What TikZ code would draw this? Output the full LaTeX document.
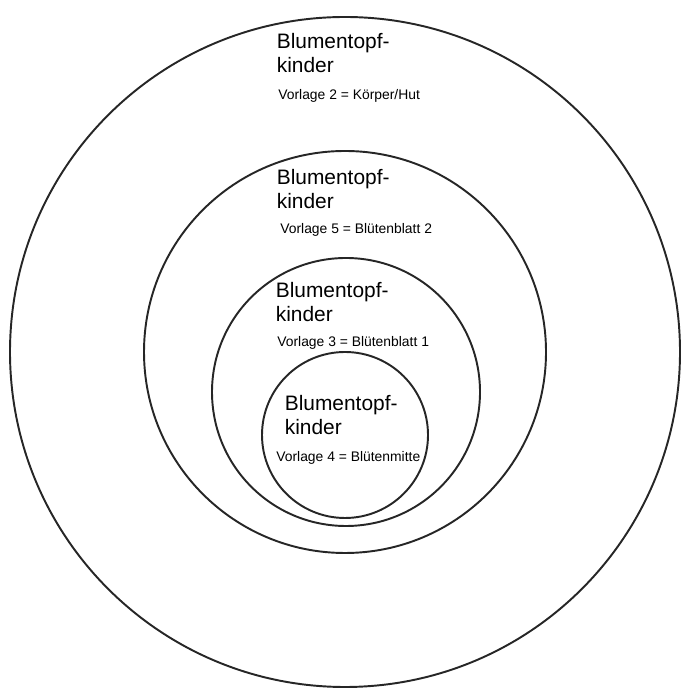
\documentclass[tikz,border=0pt]{standalone}
\usepackage{fontspec}
\setmainfont{Liberation Sans}
\usetikzlibrary{positioning}

\begin{document}
\begin{tikzpicture}[
  ring/.style={draw=black!85, line width=1.1pt},
  titel/.style={anchor=north west, inner sep=0pt, align=left,
    font=\fontsize{11.9}{13.6}\selectfont},
  vorlage/.style={anchor=base west, inner sep=0pt,
    font=\fontsize{7.9}{9}\selectfont}
]

\useasboundingbox (0,0) rectangle (13.78,13.98);

% Rings, outside in
\draw[ring] (6.90,6.94) circle (6.70);
\draw[ring] (6.90,6.94) circle (4.02);
\draw[ring] (6.92,6.14) circle (2.68);
\draw[ring] (6.90,5.28) circle (1.66);

% Outer ring
\node[titel] (t2) at (5.53,13.31) {Blumentopf-\\kinder};
\node[vorlage] (v2) at (5.56,11.98) {Vorlage 2 = Körper/Hut};

% Second ring
\node[titel] (t5) at (5.53,10.59) {Blumentopf-\\kinder};
\node[vorlage] (v5) at (5.60,9.30) {Vorlage 5 = Blütenblatt 2};

% Third ring
\node[titel] (t3) at (5.51,8.33) {Blumentopf-\\kinder};
\node[vorlage] (v3) at (5.54,7.04) {Vorlage 3 = Blütenblatt 1};

% Inner ring
\node[titel] (t4) at (5.69,6.07) {Blumentopf-\\kinder};
\node[vorlage] (v4) at (5.52,4.74) {Vorlage 4 = Blütenmitte};

\end{tikzpicture}
\end{document}
